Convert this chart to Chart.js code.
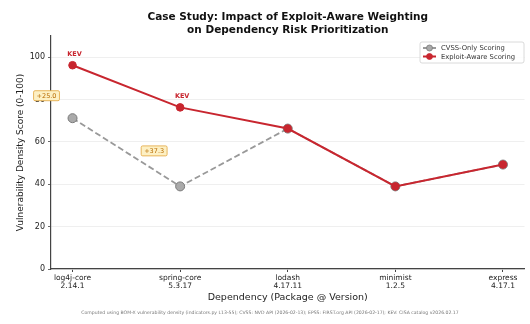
<!DOCTYPE html>
<html>
<head>
<meta charset="utf-8">
<script src="https://cdn.jsdelivr.net/npm/chart.js@4.4.1/dist/chart.umd.min.js"></script>
<style>
  html, body { margin: 0; padding: 0; background: #fff; }
  #wrap { width: 530px; height: 324px; position: relative; }
</style>
</head>
<body>
<div id="wrap"><canvas id="chart"></canvas></div>
<script>
const packages = ['log4j-core', 'spring-core', 'lodash', 'minimist', 'express']
const versions = ['2.14.1', '5.3.17', '4.17.11', '1.2.5', '4.17.1']
const cvssOnly = [71.2, 39.0, 66.3, 39.0, 49.3]
const exploitAware = [96.2, 76.3, 66.3, 39.0, 49.3]
const kevFlags = [true, true, false, false, false]
const yTicks = [0, 20, 40, 60, 80, 100]

const titleLines = ['Case Study: Impact of Exploit-Aware Weighting', 'on Dependency Risk Prioritization']
const footnote = 'Computed using BOM-X vulnerability density (indicators.py L13-55); CVSS: NVD API (2026-02-13); EPSS: FIRST.org API (2026-02-17); KEV: CISA catalog v2026.02.17'

const RED = '#c8262f'
const GREY = '#999999'
const FONT = '"DejaVu Sans", sans-serif'

const toPoints = arr => arr.map((v, i) => ({x: i, y: v}))

const extras = {
  id: 'extras',
  afterDatasetsDraw(chart) {
    const {ctx, chartArea, scales: {x, y}} = chart
    ctx.save()

    // title over the plot area
    ctx.fillStyle = '#111'
    ctx.font = 'bold 10.5px ' + FONT
    ctx.textAlign = 'center'
    ctx.textBaseline = 'middle'
    const cx = (chartArea.left + chartArea.right) / 2
    ctx.fillText(titleLines[0], cx, 17)
    ctx.fillText(titleLines[1], cx, 30)

    // KEV markers
    ctx.fillStyle = RED
    ctx.font = 'bold 6.5px ' + FONT
    kevFlags.forEach((k, i) => {
      if (!k) return
      ctx.fillText('KEV', x.getPixelForValue(i) + 2, y.getPixelForValue(exploitAware[i]) - 11)
    })

    // delta boxes where the two scorings differ
    ctx.font = '6.5px ' + FONT
    exploitAware.forEach((v, i) => {
      const d = v - cvssOnly[i]
      if (Math.abs(d) < 0.05) return
      const label = '+' + d.toFixed(1)
      const px = x.getPixelForValue(i) - 26
      const py = y.getPixelForValue((v + cvssOnly[i]) / 2) + 4
      const w = ctx.measureText(label).width + 6
      const h = 10
      ctx.fillStyle = '#fdf0c4'
      ctx.strokeStyle = '#e2a53a'
      ctx.lineWidth = 0.8
      ctx.beginPath()
      ctx.roundRect(px - w / 2, py - h / 2, w, h, 1.5)
      ctx.fill()
      ctx.stroke()
      ctx.fillStyle = '#b86b00'
      ctx.fillText(label, px, py + 0.5)
    })

    // legend, upper right inside the plot
    const ds = chart.data.datasets
    const order = [1, 0]
    const lx = 420, ly = 42, lw = 104, lh = 21
    ctx.fillStyle = 'rgba(255,255,255,0.9)'
    ctx.strokeStyle = '#d0d0d0'
    ctx.lineWidth = 0.8
    ctx.beginPath()
    ctx.roundRect(lx, ly, lw, lh, 2)
    ctx.fill()
    ctx.stroke()
    ctx.font = '6.8px ' + FONT
    ctx.textAlign = 'left'
    order.forEach((di, row) => {
      const d = ds[di]
      const yy = ly + 6 + row * 8.5
      ctx.strokeStyle = d.borderColor
      ctx.lineWidth = d.borderWidth
      ctx.setLineDash(d.borderDash || [])
      ctx.beginPath()
      ctx.moveTo(lx + 3, yy)
      ctx.lineTo(lx + 16, yy)
      ctx.stroke()
      ctx.setLineDash([])
      ctx.fillStyle = d.pointBackgroundColor
      ctx.strokeStyle = d.pointBorderColor
      ctx.lineWidth = 0.8
      ctx.beginPath()
      ctx.arc(lx + 9.5, yy, 3, 0, Math.PI * 2)
      ctx.fill()
      ctx.stroke()
      ctx.fillStyle = '#333'
      ctx.fillText(d.label, lx + 21, yy + 0.5)
    })

    // footnote
    ctx.fillStyle = '#777'
    ctx.font = '4.6px ' + FONT
    ctx.textAlign = 'center'
    ctx.fillText(footnote, 270, 313)
    ctx.restore()
  }
}

new Chart(document.getElementById('chart'), {
  type: 'line',
  data: {
    datasets: [
      {
        label: 'Exploit-Aware Scoring',
        data: toPoints(exploitAware),
        borderColor: RED,
        borderWidth: 2,
        pointRadius: 3.8,
        pointBackgroundColor: RED,
        pointBorderColor: RED,
        pointBorderWidth: 1,
        order: 0,
      },
      {
        label: 'CVSS-Only Scoring',
        data: toPoints(cvssOnly),
        borderColor: GREY,
        borderWidth: 1.8,
        borderDash: [6, 3],
        pointRadius: 4.5,
        pointBackgroundColor: '#aaaaaa',
        pointBorderColor: '#7a7a7a',
        pointBorderWidth: 1,
        order: 1,
      },
    ]
  },
  options: {
    responsive: true,
    maintainAspectRatio: false,
    animation: false,
    layout: {padding: {left: 0, right: 3, top: 36, bottom: 0}},
    plugins: {
      legend: {display: false},
      tooltip: {enabled: false},
    },
    scales: {
      x: {
        type: 'linear',
        min: -0.2,
        max: 4.2,
        afterBuildTicks: s => { s.ticks = packages.map((p, i) => ({value: i})) },
        afterFit: s => { s.height = 55 },
        ticks: {
          autoSkip: false,
          maxRotation: 0,
          color: '#222',
          font: {family: FONT, size: 7.5, lineHeight: 1.1},
          padding: 2,
          callback: v => [packages[v], versions[v]],
        },
        grid: {drawOnChartArea: false, tickLength: 3, tickColor: '#444'},
        border: {color: '#444', width: 1.2},
        title: {
          display: true,
          text: 'Dependency (Package @ Version)',
          color: '#222',
          font: {family: FONT, size: 9.5},
          padding: {top: 0, bottom: 21},
        },
      },
      y: {
        min: 0,
        max: 110,
        afterBuildTicks: s => { s.ticks = yTicks.map(v => ({value: v})) },
        afterFit: s => { s.width = 51 },
        ticks: {
          color: '#222',
          font: {family: FONT, size: 8},
          padding: 3,
        },
        grid: {color: '#ebebeb', lineWidth: 0.8, tickLength: 3, tickColor: '#444'},
        border: {color: '#444', width: 1.2},
        title: {
          display: true,
          text: 'Vulnerability Density Score (0-100)',
          color: '#222',
          font: {family: FONT, size: 9},
          padding: {top: 15, bottom: 0},
        },
      },
    },
  },
  plugins: [extras],
})
</script>
</body>
</html>
